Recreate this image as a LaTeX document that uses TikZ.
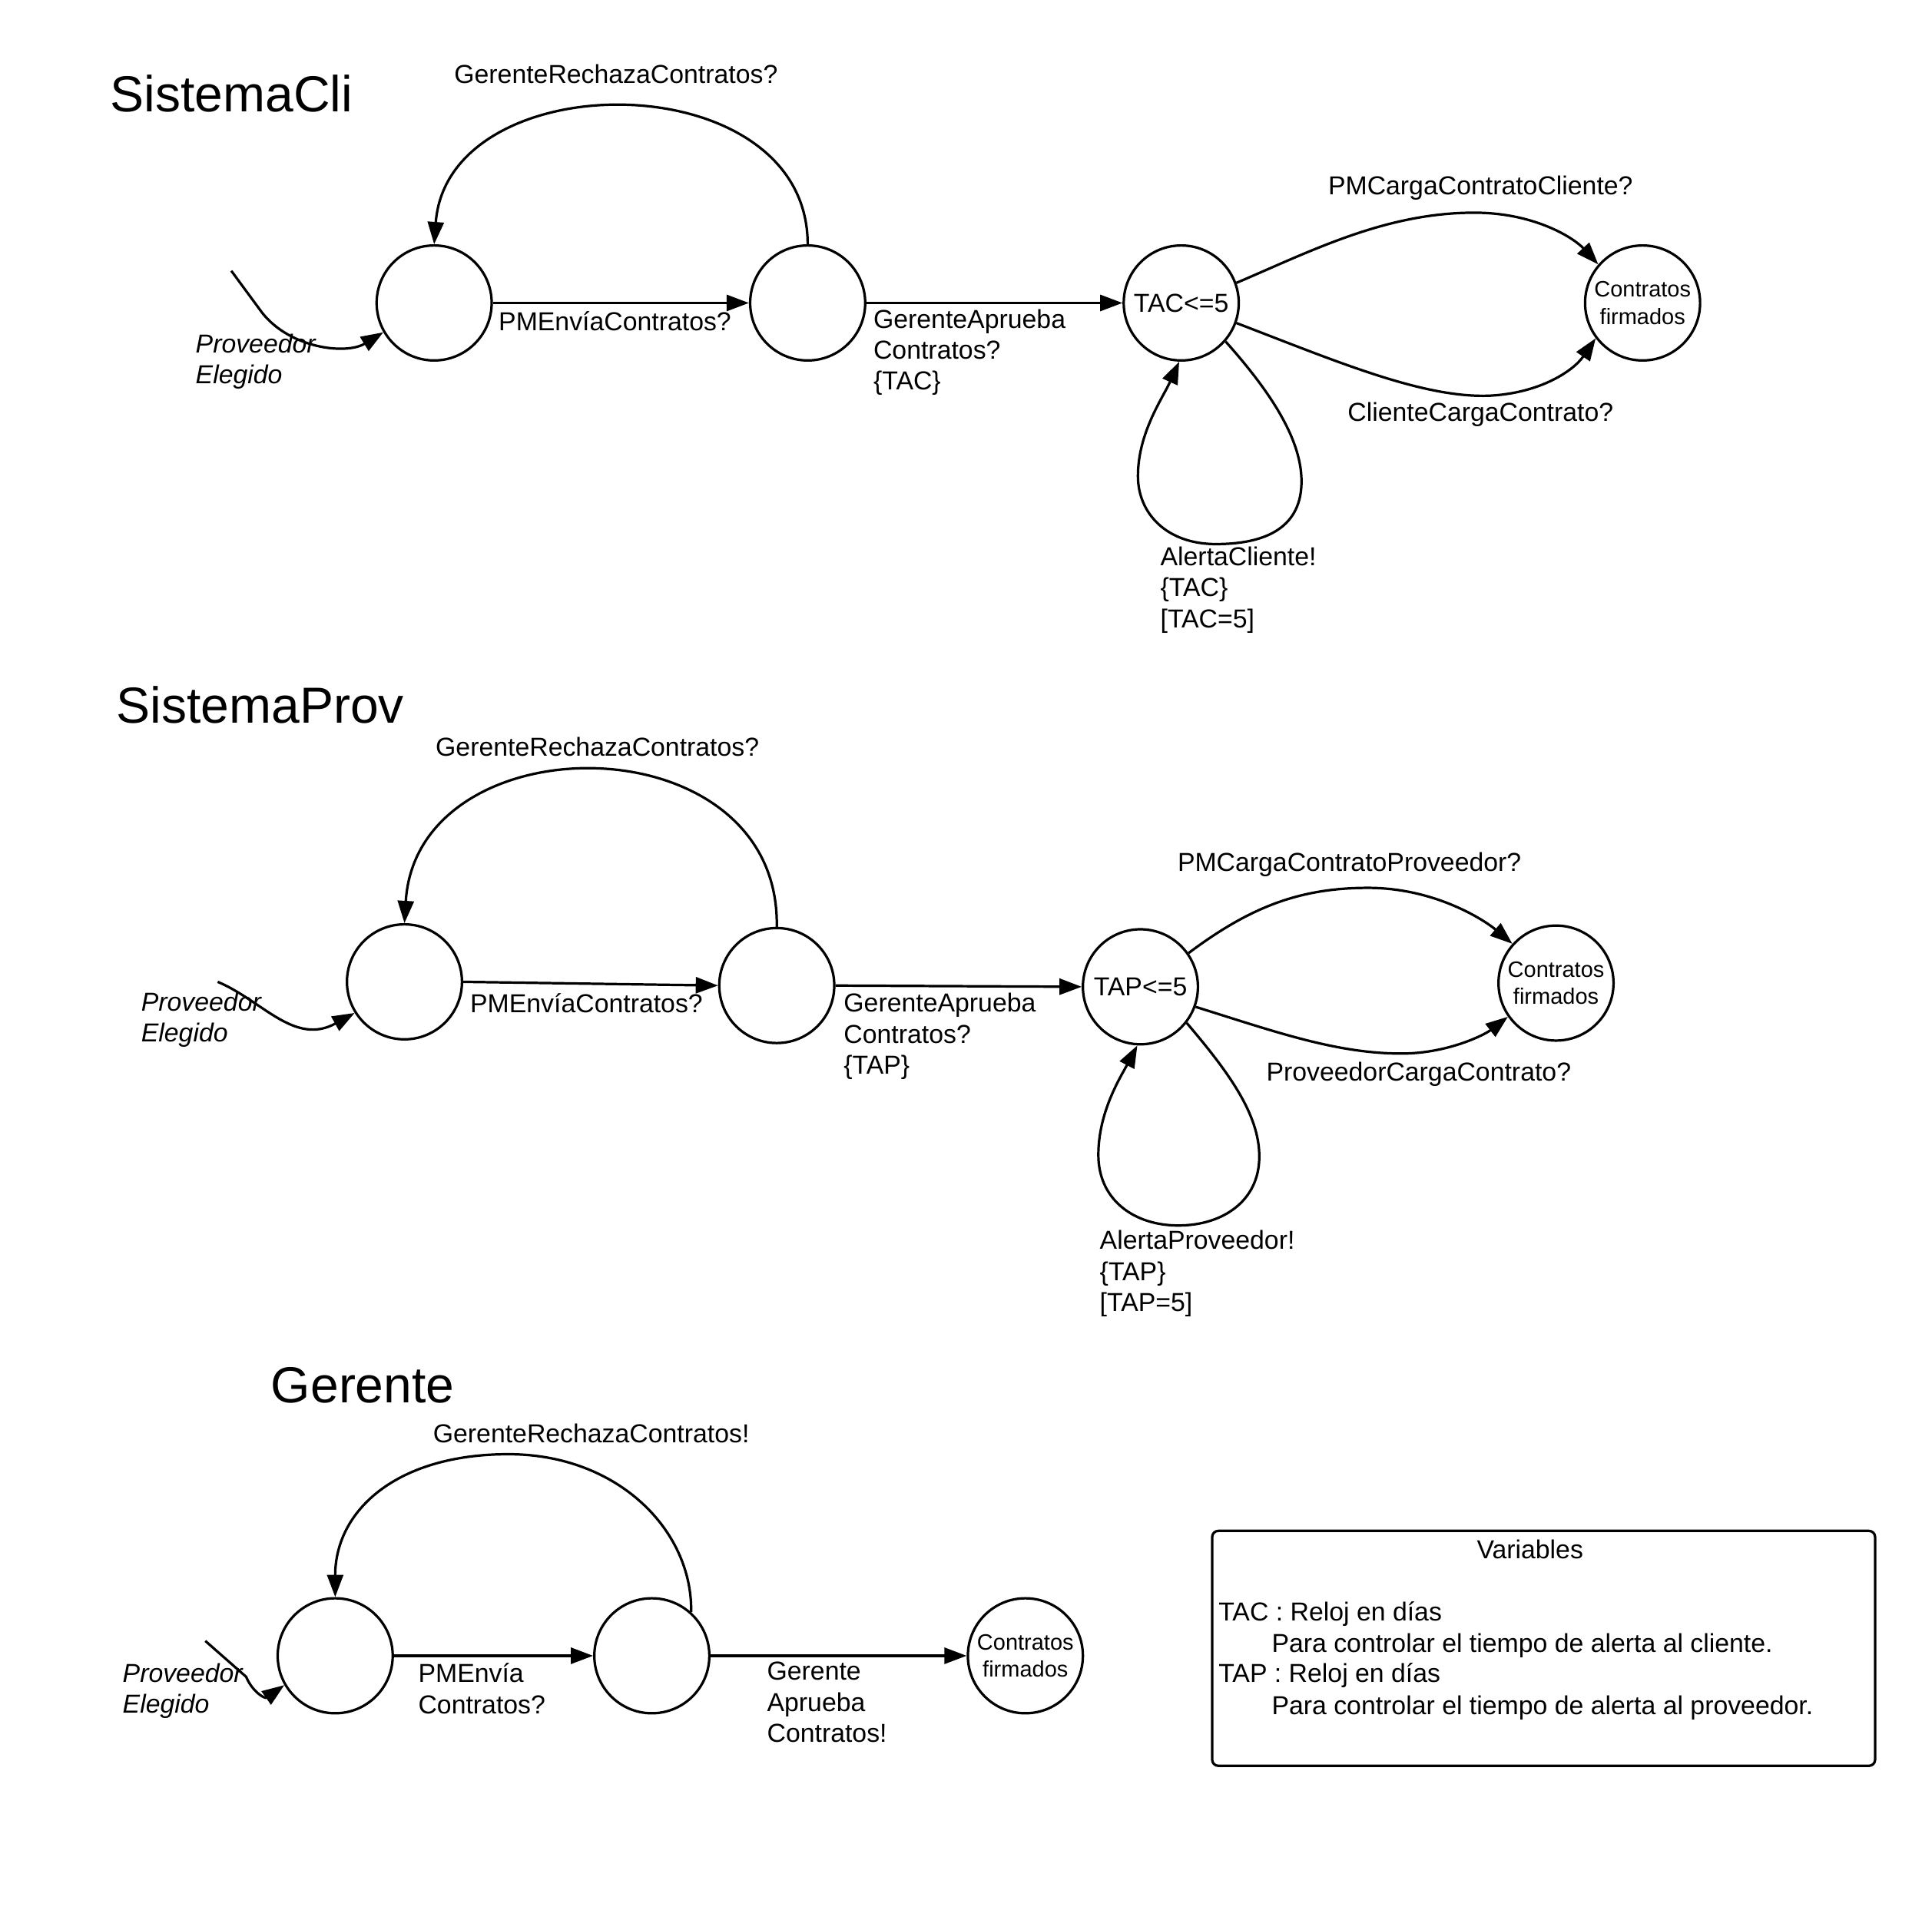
\documentclass[tikz,border=0pt]{standalone}
\usepackage{fontspec}
\setmainfont{Liberation Sans}
\usetikzlibrary{arrows.meta}
\newcommand\lblfont{\fontsize{21}{25}\selectfont}
\newcommand\smfont{\fontsize{18}{22}\selectfont}
\newcommand\ttlfont{\fontsize{41}{48}\selectfont}
\tikzset{
  st/.style={circle, draw, line width=2pt, minimum size=93pt, inner sep=0pt, font=\lblfont},
  fin/.style={st, font=\smfont, align=center},
  ed/.style={line width=2pt, -{Triangle[length=18pt,width=13pt]}},
  lbl/.style={font=\lblfont, inner sep=0pt, align=left},
  ini/.style={lbl, font=\lblfont\itshape},
  ttl/.style={font=\ttlfont, inner sep=0pt, anchor=west},
}
\begin{document}
\begin{tikzpicture}[x=1pt, y=-1pt]
\useasboundingbox (0,0) rectangle (1562,1544);

% ---------------- SistemaCli ----------------
\node[ttl] (t1) at (89,76) {SistemaCli};
\node[st] (c1) at (351,245) {};
\node[st] (c2) at (653,245) {};
\node[st] (c3) at (955,245) {TAC<=5};
\node[fin] (c4) at (1328,245) {Contratos\\firmados};
\coordinate (i1) at (187,219);

\draw[ed] (i1) -- (212,253) .. controls (235,282) and (280,287) .. (c1.210);
\node[ini, anchor=north west] (li1) at (158,270) {Proveedor\\Elegido};

\draw[ed] (c2.north) .. controls (653,50) and (362,50) .. (c1.north);
\node[lbl] (lc1) at (498,60) {GerenteRechazaContratos?};

\draw[ed] (c1.east) -- (c2.west);
\node[lbl, anchor=west] (lc2) at (403,260) {PMEnvíaContratos?};

\draw[ed] (c2.east) -- (c3.west);
\node[lbl, anchor=north west] (lc3) at (706,250) {GerenteAprueba\\Contratos?\\\{TAC\}};

\draw[ed] (c3.20) .. controls (1060,203) and (1120,172) .. (1192,172)
          .. controls (1240,172) and (1272,192) .. (c4.139);
\node[lbl] (lc4) at (1197,152) {PMCargaContratoCliente?};

\draw[ed] (c3.-20) .. controls (1080,292) and (1150,322) .. (1204,320)
          .. controls (1245,318) and (1272,300) .. (c4.217);
\node[lbl] (lc5) at (1197,335) {ClienteCargaContrato?};

\draw[ed] (c3.-41) .. controls (1030,320) and (1055,360) .. (1052,395)
          .. controls (1049,430) and (1018,440) .. (983,440)
          .. controls (943,440) and (920,415) .. (920,385)
          .. controls (920,350) and (940,322) .. (c3.-92);
\node[lbl, anchor=north west] (lc6) at (938,442) {AlertaCliente!\\\{TAC\}\\{}[TAC=5]};

% ---------------- SistemaProv ----------------
\node[ttl] (t2) at (94,570) {SistemaProv};
\node[st] (p1) at (327,794) {};
\node[st] (p2) at (628,797) {};
\node[st] (p3) at (922,798) {TAP<=5};
\node[fin] (p4) at (1258,795) {Contratos\\firmados};
\coordinate (i2) at (176,794);

\draw[ed] (i2) .. controls (212,809) and (238,846) .. (p1.212);
\node[ini, anchor=north west] (li2) at (114,802) {Proveedor\\Elegido};

\draw[ed] (p2.north) .. controls (631,582) and (337,582) .. (p1.north);
\node[lbl] (lp1) at (483,604) {GerenteRechazaContratos?};

\draw[ed] (p1.east) -- (p2.west);
\node[lbl, anchor=west] (lp2) at (380,811) {PMEnvíaContratos?};

\draw[ed] (p2.east) -- (p3.west);
\node[lbl, anchor=north west] (lp3) at (682,803) {GerenteAprueba\\Contratos?\\\{TAP\}};

\draw[ed] (p3.35) .. controls (1010,734) and (1050,718) .. (1106,718)
          .. controls (1160,718) and (1200,744) .. (p4.138);
\node[lbl] (lp4) at (1091,699) {PMCargaContratoProveedor?};

\draw[ed] (p3.-20) .. controls (1030,834) and (1080,852) .. (1133,852)
          .. controls (1170,852) and (1200,837) .. (p4.215);
\node[lbl] (lp5) at (1147,869) {ProveedorCargaContrato?};

\draw[ed] (p3.-38) .. controls (995,869) and (1020,904) .. (1018,939)
          .. controls (1016,974) and (985,992) .. (950,991)
          .. controls (915,990) and (888,969) .. (888,934)
          .. controls (888,899) and (906,871) .. (p3.-93);
\node[lbl, anchor=north west] (lp6) at (889,995) {AlertaProveedor!\\\{TAP\}\\{}[TAP=5]};

% ---------------- Gerente ----------------
\node[ttl] (t3) at (219,1120) {Gerente};
\node[st] (g1) at (271,1339) {};
\node[st] (g2) at (527,1339) {};
\node[fin] (g3) at (829,1339) {Contratos\\firmados};
\coordinate (i3) at (166,1327);

\draw[ed] (i3) -- (199,1356) .. controls (204,1368) and (214,1374) .. (g1.210);
\node[ini, anchor=north west] (li3) at (99,1345) {Proveedor\\Elegido};

\draw[ed] (g2.48) .. controls (560,1238) and (500,1176) .. (411,1176)
          .. controls (320,1176) and (271,1222) .. (g1.north);
\node[lbl] (lg1) at (478,1159) {GerenteRechazaContratos!};

\draw[ed] (g1.east) -- (g2.west);
\node[lbl, anchor=north west] (lg2) at (338,1345) {PMEnvía\\Contratos?};

\draw[ed] (g2.east) -- (g3.west);
\node[lbl, anchor=north west] (lg3) at (620,1344) {Gerente\\Aprueba\\Contratos!};

% ---------------- Variables ----------------
\node[draw, line width=2pt, rounded corners=5pt, minimum width=536pt, minimum height=190pt,
      anchor=north west, inner sep=0pt] (vb) at (979,1237) {};
\node[lbl] (vt) at (1237,1253) {Variables};
\node[lbl, anchor=west] (v1) at (985,1305) {TAC : Reloj en días};
\node[lbl, anchor=west] (v2) at (1028,1331) {Para controlar el tiempo de alerta al cliente.};
\node[lbl, anchor=west] (v3) at (985,1355) {TAP : Reloj en días};
\node[lbl, anchor=west] (v4) at (1028,1381) {Para controlar el tiempo de alerta al proveedor.};
\end{tikzpicture}
\end{document}
